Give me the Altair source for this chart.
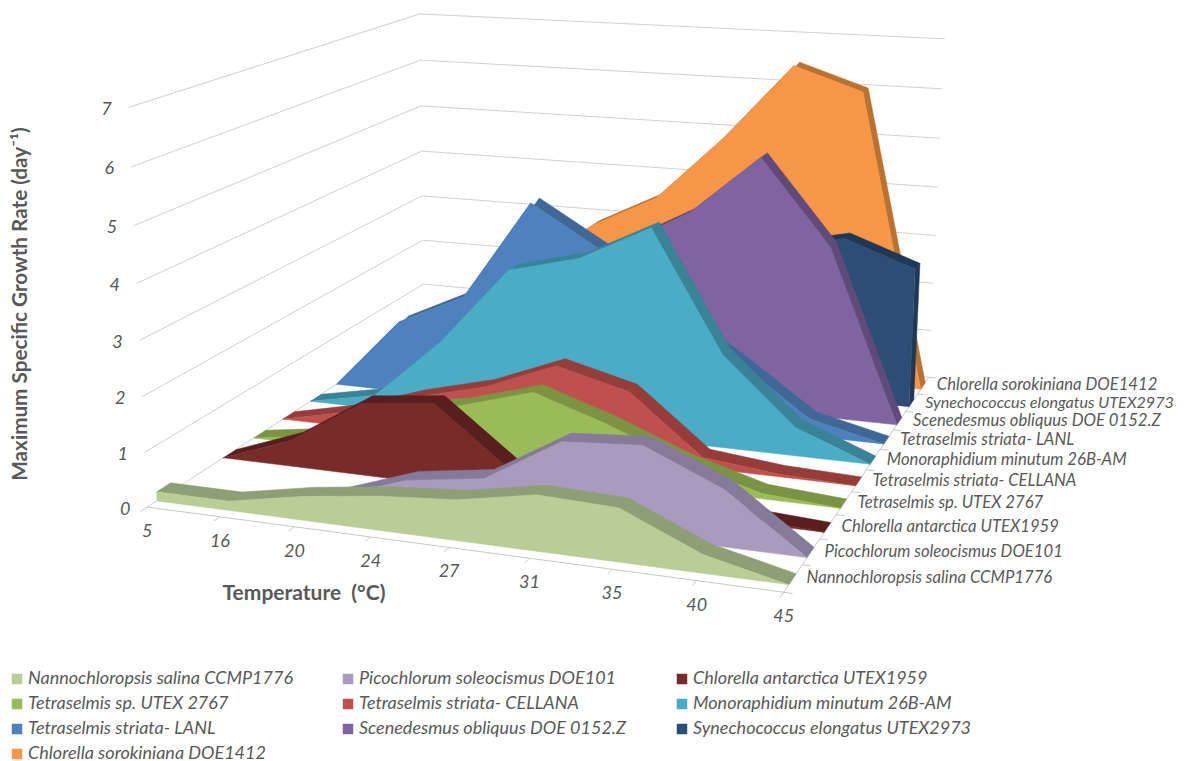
import numpy as np
import pandas as pd
import altair as alt

temperatures = ["5", "16", "20", "24", "27", "31", "35", "40", "45"]
series_names = [
    "Nannochloropsis salina CCMP1776",
    "Picochlorum soleocismus DOE101",
    "Chlorella antarctica UTEX1959",
    "Tetraselmis sp. UTEX 2767",
    "Tetraselmis striata- CELLANA",
    "Monoraphidium minutum 26B-AM",
    "Tetraselmis striata- LANL",
    "Scenedesmus obliquus DOE 0152.Z",
    "Synechococcus elongatus UTEX2973",
    "Chlorella sorokiniana DOE1412",
]
nanno = [0.17, 0.17, 0.43, 0.61, 0.72, 0.98, 0.93, 0.32, 0.0]
pico = [None, None, 0.0, 0.48, 0.68, 1.5, 1.6, 1.0, 0.0]
antarctica = [0.0, 0.5, 1.35, 1.5, 0.45, 0.2, 0.1, 0.08, 0.0]
tetra_sp = [0.0, 0.2, 0.85, 1.1, 1.5, 1.05, 0.5, 0.1, 0.0]
cellana = [0.0, 0.3, 0.75, 1.1, 1.65, 1.3, 0.2, 0.05, 0.0]
mono = [0.0, 0.27, 1.5, 3.05, 3.4, 4.1, 1.8, 0.55, 0.0]
lanl = [0.0, 1.45, 2.1, 4.1, 3.3, 2.2, 1.3, 0.33, 0.0]
scene = [0.0, 0.8, 1.5, 2.3, 3.1, 3.85, 5.05, 3.4, 0.0]
syn = [0.0, 0.5, 1.0, 1.5, 2.0, 2.5, 3.0, 3.3, 2.8]
soro = [0.0, 0.8, 1.8, 2.85, 3.55, 4.9, 6.45, 6.0, 0.0]
all_values = [nanno, pico, antarctica, tetra_sp, cellana, mono, lanl, scene, syn, soro]

face_colors = ["#B9CD96", "#A99BBD", "#772C2A", "#9BBB59", "#C0504D",
               "#4BACC6", "#4F81BD", "#8064A2", "#2C4D75", "#F79646"]
ridge_colors = ["#8F9F75", "#857A99", "#591F1F", "#7A9443", "#963D3B",
                "#388396", "#3F6896", "#604A7B", "#1F3858", "#B9722F"]

# Perspective camera fitted to the box corners: (category, depth, value) -> page pixels
cam_world = [(0, 0, 0), (8, 0, 0), (0, 10, 0), (8, 10, 0), (0, 0, 7), (0, 10, 7),
             (8, 10, 7), (0, 0, 1), (0, 10, 1), (8, 10, 1)]
cam_page = [(149, 508), (782, 593), (423, 328), (930, 377), (128, 105), (420, 15),
            (945, 40), (145, 453), (423, 283), (931, 329)]
rows = []
for (a, b, c), (u, v) in zip(cam_world, cam_page):
    u, v = u / 1000, v / 1000
    rows.append([a, b, c, 1, 0, 0, 0, 0, -u * a, -u * b, -u * c, -u])
    rows.append([0, 0, 0, 0, a, b, c, 1, -v * a, -v * b, -v * c, -v])
cam = np.linalg.svd(np.array(rows, float))[2][-1].reshape(3, 4)


def project(t, d, z):
    h = cam @ np.array([t, d, z, 1.0])
    return 1000 * h[0] / h[2], 1000 * h[1] / h[2]


xs = alt.Scale(domain=[8, 1177], range=[0, 1169], nice=False, zero=False)
ys = alt.Scale(domain=[8, 761], range=[0, 753], nice=False, zero=False)
X = alt.X("px:Q", scale=xs, axis=None)
Y = alt.Y("py:Q", scale=ys, axis=None)


def path(points):
    pts = [project(*p) for p in points]
    return pd.DataFrame({"px": [p[0] for p in pts], "py": [p[1] for p in pts], "k": range(len(pts))})


def poly(points, fill):
    return alt.Chart(path(points)).mark_line(fill=fill, stroke=fill, strokeWidth=0.5).encode(
        x=X, y=Y, order="k:Q")


def rule(points, color="#D0D0D0", width=1.0):
    return alt.Chart(path(points)).mark_line(stroke=color, strokeWidth=width).encode(
        x=X, y=Y, order="k:Q")


def label(text, t, d, z, dx, dy, **kw):
    u, v = project(t, d, z)
    df = pd.DataFrame({"px": [u + dx], "py": [v + dy], "s": [text]})
    opts = dict(font="Lato", fontStyle="italic", fontSize=18, color="#595959")
    opts.update(kw)
    return alt.Chart(df).mark_text(**opts).encode(x=X, y=Y, text="s:N")


layers = []
# walls
for z in range(8):
    layers.append(rule([(0, 0, z), (0, 10, z), (8, 10, z)]))
# floor axes and ticks
layers.append(rule([(0, 0, 0), (8, 0, 0), (8, 10, 0)], "#C8C8C8"))
for t in range(9):
    layers.append(rule([(t, 0, 0), (t, -0.18, 0)], "#C8C8C8"))
for d in range(11):
    layers.append(rule([(8, d, 0), (8.1, d, 0)], "#C8C8C8"))

# series, back to front
D0, D1 = 0.27, 0.67
for i in range(9, -1, -1):
    vals = all_values[i]
    present = [(t, v) for t, v in enumerate(vals) if v is not None]
    first = present[0][0]
    front = [(t, i + D0, v) for t, v in present]
    back = [(t, i + D1, v) for t, v in present]
    if vals[8] > 0:
        layers.append(poly([(8, i + D0, 0), (8, i + D1, 0), (8, i + D1, vals[8]), (8, i + D0, vals[8])],
                           ridge_colors[i]))
    layers.append(poly(back + front[::-1], ridge_colors[i]))
    base = [(8, i + D0, 0), (first, i + D0, 0)]
    layers.append(poly(front + base, face_colors[i]))

# value labels
for z in range(8):
    layers.append(label(str(z), 0, 0, z, -22, 2.5, align="center"))
# category labels
for t, name in enumerate(temperatures):
    layers.append(label(name, t, 0, 0, 0, 25, align="center"))
# series labels
for i, name in enumerate(series_names):
    size = 16.1 if name.startswith("Synechococcus") else 16.7
    layers.append(label(name, 8, i + 0.5, 0, 13.5, 0, align="left", fontSize=size))

# titles
title_x = pd.DataFrame({"px": [304], "py": [594], "s": ["Temperature\u00a0\u00a0(°C)"]})
layers.append(alt.Chart(title_x).mark_text(font="Lato", fontWeight="bold", fontSize=21, color="#595959").encode(
    x=X, y=Y, text="s:N"))
title_y = pd.DataFrame({"px": [21], "py": [304], "s": ["Maximum Specific Growth Rate (day⁻¹)"]})
layers.append(alt.Chart(title_y).mark_text(font="Lato", fontWeight="bold", fontSize=20.7, angle=270, color="#595959").encode(
    x=X, y=Y, text="s:N"))

# legend
legend_df = pd.DataFrame({"Series": series_names, "px": [20] * 10, "py": [20] * 10})
layers.append(alt.Chart(legend_df).mark_square(size=0, opacity=1).encode(
    x=X, y=Y,
    color=alt.Color("Series:N", scale=alt.Scale(domain=series_names, range=face_colors),
                    legend=alt.Legend(
                        title=None, orient="none", legendX=0, legendY=662, columns=3,
                        direction="horizontal", symbolType="square", symbolSize=110,
                        symbolStrokeWidth=0, labelFont="Lato", labelFontStyle="italic",
                        labelFontSize=18, labelColor="#595959", labelLimit=400,
                        columnPadding=46, rowPadding=7, labelOffset=2, symbolOpacity=1)),
))

chart = alt.layer(*layers).properties(width=1169, height=753, padding=0,
                                      autosize=alt.AutoSizeParams(type="none")).configure_view(stroke=None)
chart.save("out.html", embed_options={"renderer": "svg", "actions": False})
